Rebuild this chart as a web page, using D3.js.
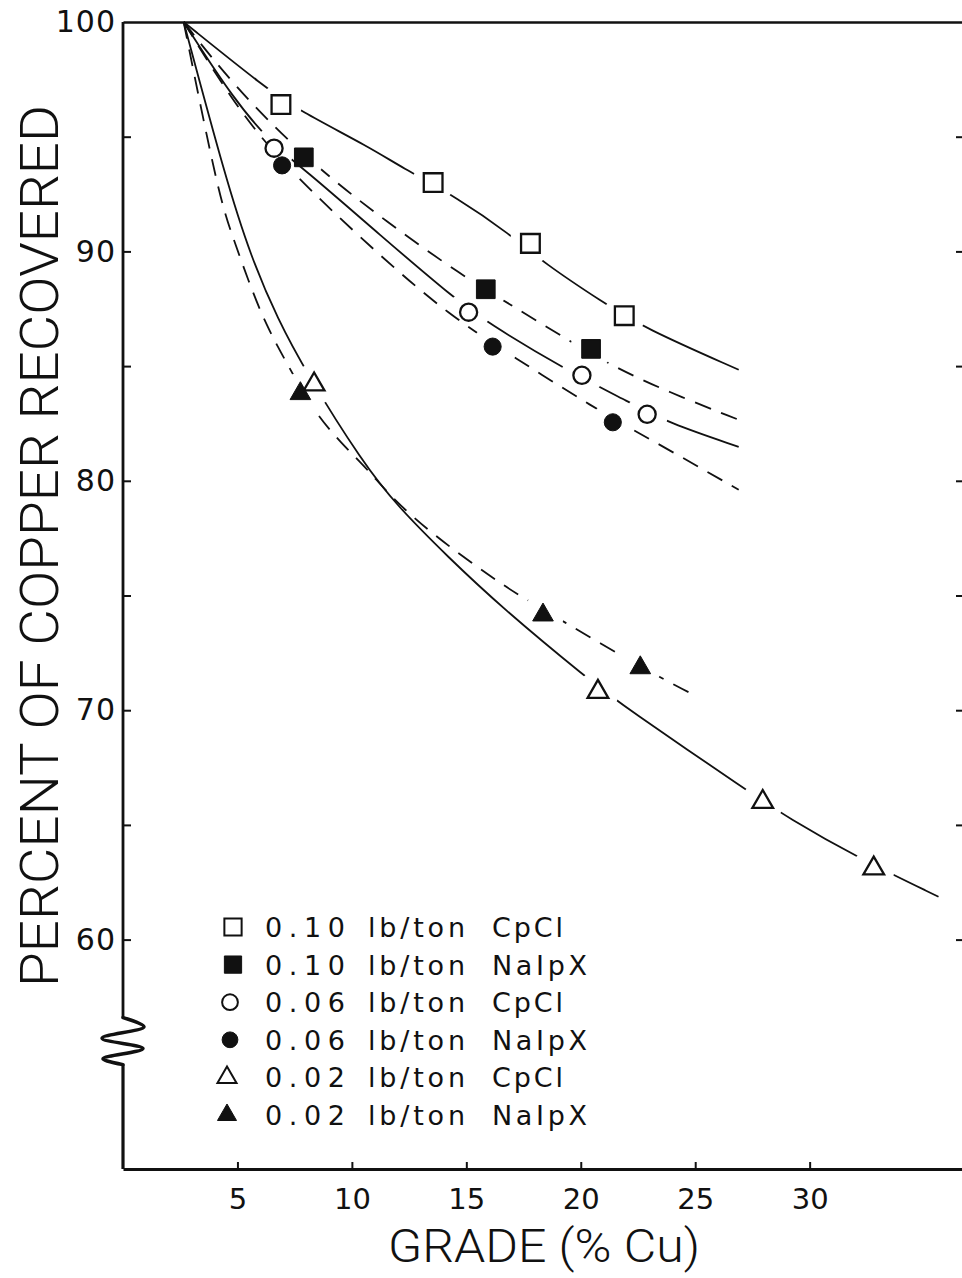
<!DOCTYPE html>
<html>
<head>
<meta charset="utf-8">
<script src="https://cdn.jsdelivr.net/npm/d3@7"></script>
<style>
  body { margin: 0; background: #fff; }
  svg { display: block; }
</style>
</head>
<body>
<svg id="chart" width="962" height="1278"></svg>
<script>
// ---- tick values ----
const xTicks = [5, 10, 15, 20, 25, 30];
const yLabelTicks = [100, 90, 80, 70, 60];
const yInnerTicks = [95, 90, 85, 80, 75, 70, 65, 60];

// ---- legend text ----
const doses = ["0.10", "0.10", "0.06", "0.06", "0.02", "0.02"];
const collectors = ["CpCl", "NaIpX", "CpCl", "NaIpX", "CpCl", "NaIpX"];
const unitLabel = "lb/ton";

// ---- measured points: [grade % Cu, % copper recovered] ----
const cpcl010Points  = [[6.9, 96.4], [13.55, 93.0], [17.8, 90.35], [21.9, 87.2]];
const naipx010Points = [[7.9, 94.1], [15.85, 88.35], [20.45, 85.75]];
const cpcl006Points  = [[6.6, 94.5], [15.1, 87.35], [20.05, 84.6], [22.9, 82.9]];
const naipx006Points = [[6.95, 93.75], [16.15, 85.85], [21.4, 82.55]];
const cpcl002Points  = [[8.35, 84.2], [20.75, 70.8], [27.95, 66.0], [32.8, 63.1]];
const naipx002Points = [[7.75, 83.8], [18.35, 74.15], [22.6, 71.85]];

// ---- hand-fitted grade/recovery curves ----
const cpcl010Curve = [[2.65, 100], [6.24, 97.12], [7.64, 96.17], [10.83, 94.51], [12.14, 93.68],
  [14.63, 92.33], [16.94, 90.72], [18.38, 89.5], [21.0, 87.76], [22.75, 86.67], [26.9, 84.84]];
const naipx010Curve = [[2.65, 100], [4.85, 97.21], [7.9, 94.12], [11.27, 91.46], [14.89, 88.89],
  [16.81, 87.76], [19.56, 86.06], [21.44, 84.97], [23.8, 83.88], [26.9, 82.66]];
const cpcl006Curve = [[2.65, 100], [4.85, 96.6], [6.59, 94.6], [7.86, 93.64], [11.27, 90.68],
  [14.45, 87.97], [15.94, 86.88], [19.34, 84.84], [22.18, 83.4], [23.8, 82.53], [26.9, 81.48]];
const naipx006Curve = [[2.65, 100], [4.85, 96.43], [6.99, 93.77], [11.27, 89.76], [14.24, 87.23],
  [17.07, 85.4], [20.57, 83.18], [22.93, 81.87], [26.9, 79.61]];
const cpcl002Curve = [[2.65, 100], [4.5, 93.12], [5.59, 89.76], [6.77, 87.02], [7.99, 84.75],
  [10.48, 80.78], [12.01, 78.87], [14.19, 76.69], [16.51, 74.51], [20.35, 71.33], [21.97, 70.11],
  [27.34, 66.45], [29.04, 65.32], [32.1, 63.57], [35.63, 61.87]];
const naipx002Curve = [[2.65, 100], [4.19, 92.37], [4.8, 90.63], [5.46, 88.76], [6.24, 86.8],
  [7.12, 85.19], [8.34, 83.01], [9.52, 81.66], [10.7, 80.48], [11.83, 79.17], [13.32, 77.86],
  [14.63, 76.86], [16.07, 75.82], [17.38, 74.95], [19.13, 73.94], [22.05, 72.2], [24.24, 71.02],
  [25.02, 70.63]];

const series = [
  { symbol: d3.symbolSquare,   filled: false, dashed: false, points: cpcl010Points,  curve: cpcl010Curve },
  { symbol: d3.symbolSquare,   filled: true,  dashed: true,  points: naipx010Points, curve: naipx010Curve },
  { symbol: d3.symbolCircle,   filled: false, dashed: false, points: cpcl006Points,  curve: cpcl006Curve },
  { symbol: d3.symbolCircle,   filled: true,  dashed: true,  points: naipx006Points, curve: naipx006Curve },
  { symbol: d3.symbolTriangle, filled: false, dashed: false, points: cpcl002Points,  curve: cpcl002Curve },
  { symbol: d3.symbolTriangle, filled: true,  dashed: true,  points: naipx002Points, curve: naipx002Curve }
];

const W = 962, H = 1278;
const INK = "#111";
const FONT = "DejaVu Sans, Liberation Sans, sans-serif";
const TITLE_FONT = "Roboto, DejaVu Sans, sans-serif";

const x = d3.scaleLinear().domain([0, 36.7]).range([123, 963]);
const y = d3.scaleLinear().domain([50, 100]).range([1169, 22]);

const svg = d3.select("#chart");
svg.append("rect").attr("width", W).attr("height", H).attr("fill", "#fff");
const defs = svg.append("defs");

function symbolSize(sym) {
  if (sym === d3.symbolSquare) return 350;
  if (sym === d3.symbolCircle) return 230;
  return 185;
}

// ---- frame: top line and bottom axis ----
svg.append("g")
  .attr("transform", `translate(0,${y(100)})`)
  .call(d3.axisBottom(x).tickValues([]).tickSizeOuter(0))
  .call(g => g.select(".domain").attr("stroke", INK).attr("stroke-width", 2.5));

svg.append("g")
  .attr("transform", `translate(0,${y(50)})`)
  .call(d3.axisTop(x).tickValues(xTicks).tickSize(7).tickSizeOuter(0).tickFormat(""))
  .call(g => g.select(".domain").attr("stroke", INK).attr("stroke-width", 2.8))
  .call(g => g.selectAll(".tick line").attr("stroke", INK).attr("stroke-width", 2));

svg.append("g")
  .attr("transform", `translate(0,${y(50)})`)
  .call(d3.axisBottom(x).tickValues(xTicks).tickSize(0).tickPadding(19).tickFormat(d3.format("d")))
  .call(g => g.select(".domain").remove())
  .call(g => g.selectAll("text").attr("font-family", FONT).attr("font-size", 29).attr("fill", INK));

// ---- left axis with scale break ----
const breakTop = 56.6, breakBottom = 54.55;
const zigzag = [[0, 100], [0, breakTop], [21, 56.2], [-21, 55.7], [20, 55.25], [-20, 54.8],
  [0, breakBottom], [0, 50]];
svg.append("path")
  .attr("d", d3.line().x(d => x(0) + d[0]).y(d => y(d[1])).curve(d3.curveCatmullRom.alpha(0.5))(zigzag.slice(1, 7)))
  .attr("fill", "none").attr("stroke", INK).attr("stroke-width", 3.5)
  .attr("stroke-linejoin", "round").attr("stroke-linecap", "round");
svg.append("path")
  .attr("d", d3.line().x(d => x(0) + d[0]).y(d => y(d[1]))(zigzag.slice(0, 2)))
  .attr("stroke", INK).attr("stroke-width", 2.8);
svg.append("path")
  .attr("d", d3.line().x(d => x(0) + d[0]).y(d => y(d[1]))(zigzag.slice(6)))
  .attr("stroke", INK).attr("stroke-width", 3.2);

svg.append("g")
  .attr("transform", `translate(${x(0)},0)`)
  .call(d3.axisRight(y).tickValues(yInnerTicks).tickSize(8).tickFormat(""))
  .call(g => g.select(".domain").remove())
  .call(g => g.selectAll(".tick line").attr("stroke", INK).attr("stroke-width", 2));

svg.append("g")
  .attr("transform", `translate(${x(0)},0)`)
  .call(d3.axisLeft(y).tickValues(yLabelTicks).tickSize(0).tickPadding(7).tickFormat(d3.format("d")))
  .call(g => g.select(".domain").remove())
  .call(g => g.selectAll("text").attr("font-family", FONT).attr("font-size", 30).attr("fill", INK)
    .attr("letter-spacing", 1));

// right-hand frame ticks
svg.append("g")
  .attr("transform", `translate(${W},0)`)
  .call(d3.axisLeft(y).tickValues(yInnerTicks).tickSize(6).tickFormat(""))
  .call(g => g.select(".domain").remove())
  .call(g => g.selectAll(".tick line").attr("stroke", INK).attr("stroke-width", 2));

// ---- curves, broken around their own markers ----
const curveLine = d3.line().x(d => x(d[0])).y(d => y(d[1])).curve(d3.curveBasis);

series.forEach((s, i) => {
  const mask = defs.append("mask")
    .attr("id", "gap" + i)
    .attr("maskUnits", "userSpaceOnUse")
    .attr("x", 0).attr("y", 0).attr("width", W).attr("height", H);
  mask.append("rect").attr("width", W).attr("height", H).attr("fill", "#fff");
  mask.selectAll("circle").data(s.points).join("circle")
    .attr("cx", d => x(d[0])).attr("cy", d => y(d[1])).attr("r", 21).attr("fill", "#000");

  svg.append("path")
    .attr("d", curveLine(s.curve))
    .attr("fill", "none")
    .attr("stroke", INK)
    .attr("stroke-width", 1.8)
    .attr("stroke-dasharray", s.dashed ? "17,11" : null)
    .attr("mask", `url(#gap${i})`);
});

// ---- markers ----
series.forEach(s => {
  const sym = d3.symbol().type(s.symbol).size(symbolSize(s.symbol));
  svg.append("g").selectAll("path").data(s.points).join("path")
    .attr("transform", d => `translate(${x(d[0])},${y(d[1])})`)
    .attr("d", sym)
    .attr("fill", s.filled ? INK : "#fff")
    .attr("stroke", INK)
    .attr("stroke-width", s.filled ? 1 : 2.3);
});

// ---- legend ----
const legend = svg.append("g");
const rowTop = 927, rowGap = 37.6;
series.forEach((s, i) => {
  const cy = rowTop + i * rowGap;
  const mx = s.symbol === d3.symbolTriangle ? 227 : (s.symbol === d3.symbolCircle ? 230 : 233);
  legend.append("path")
    .attr("transform", `translate(${mx},${cy})`)
    .attr("d", d3.symbol().type(s.symbol).size(symbolSize(s.symbol) * 0.85)())
    .attr("fill", s.filled ? INK : "#fff")
    .attr("stroke", INK)
    .attr("stroke-width", s.filled ? 1 : 2);
  const cols = [[265, doses[i], 80], [368, unitLabel, 97], [492, collectors[i], collectors[i] === "CpCl" ? 71 : 95]];
  cols.forEach(([cx, txt, len]) => {
    legend.append("text")
      .attr("x", cx).attr("y", cy + 10)
      .attr("font-family", FONT).attr("font-size", 27).attr("fill", INK)
      .attr("textLength", len).attr("lengthAdjust", "spacing")
      .text(txt);
  });
});

// ---- axis titles ----
svg.append("text")
  .attr("transform", `translate(58,546) rotate(-90)`)
  .attr("text-anchor", "middle")
  .attr("font-family", TITLE_FONT).attr("font-weight", 300).attr("font-size", 54).attr("fill", INK)
  .attr("textLength", 882).attr("lengthAdjust", "spacingAndGlyphs")
  .text("PERCENT OF COPPER RECOVERED");

svg.append("text")
  .attr("x", 544).attr("y", 1262)
  .attr("text-anchor", "middle")
  .attr("font-family", TITLE_FONT).attr("font-weight", 300).attr("font-size", 46).attr("fill", INK)
  .attr("textLength", 312).attr("lengthAdjust", "spacingAndGlyphs")
  .text("GRADE (% Cu)");
</script>
</body>
</html>
